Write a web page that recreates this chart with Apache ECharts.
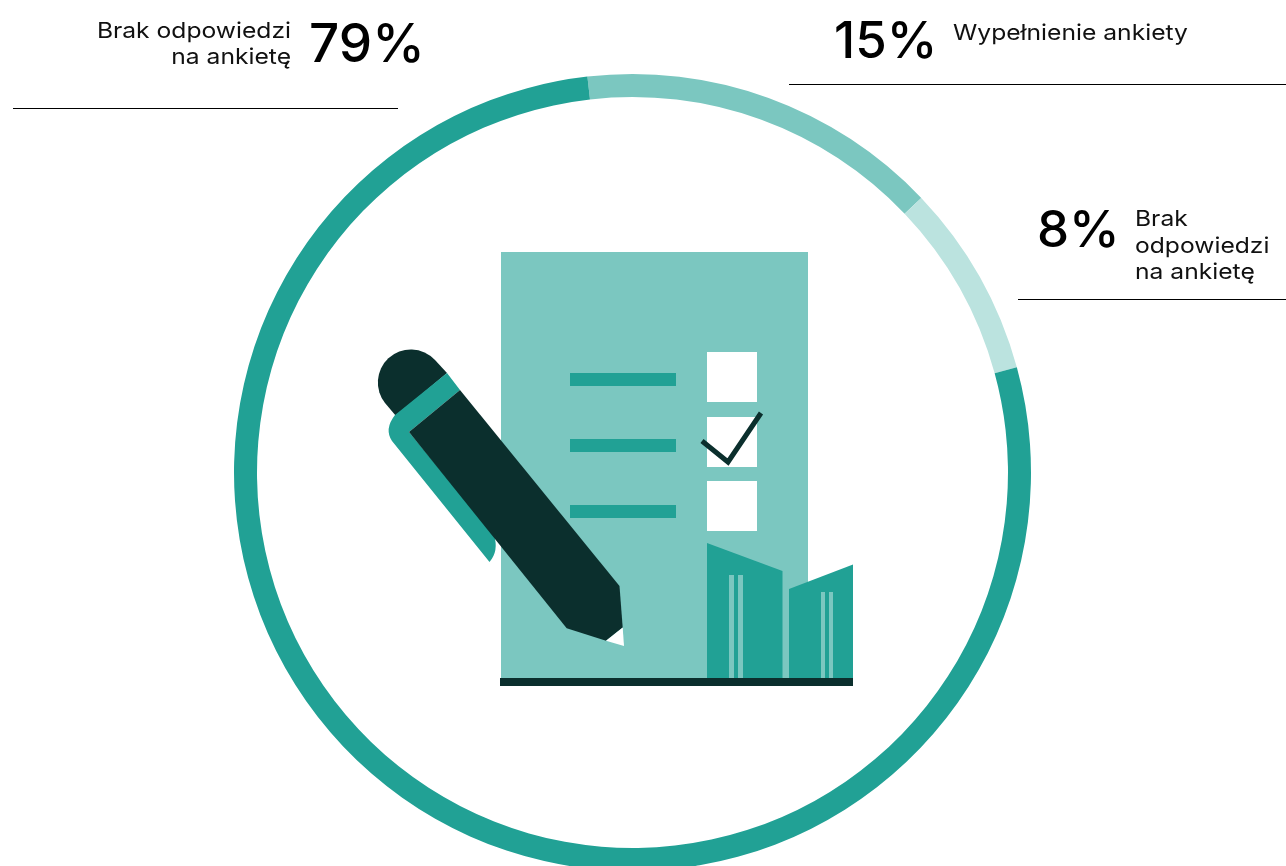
<!DOCTYPE html>
<html lang="pl">
<head>
<meta charset="utf-8">
<title>Ankieta</title>
<style>
  html, body { margin: 0; padding: 0; background: #fff; }
  #chart { width: 1286px; height: 866px; }
</style>
<script src="https://cdn.jsdelivr.net/npm/echarts@6/dist/echarts.min.js"></script>
</head>
<body>
<div id="chart"></div>
<script>
// Survey outcome, in percent
const categories = ['Wypełnienie ankiety', 'Brak odpowiedzi na ankietę', 'Brak odpowiedzi na ankietę'];
const values = [15, 8, 79];

// Caption lines per ring segment
const captions = [['Wypełnienie ankiety'], ['Brak', 'odpowiedzi', 'na ankietę'], ['Brak odpowiedzi', 'na ankietę']];

const TEAL = '#21a195';
const MID = '#7bc7c0';
const PALE = '#bbe3df';
const DARK = '#0b2f2d';
const FONT = 'Inter, "Noto Sans", sans-serif';

// Curved pieces of the pen, registered as shapes for the graphic component
echarts.graphic.registerShape('penCap', echarts.graphic.extendPath(
  'M447,373 L435,360 A33,33 0 0 0 385,403 L396,416 Z', {}));
echarts.graphic.registerShape('penClip', echarts.graphic.extendPath(
  'M447,373 L460,390 L409,432 L494,535 Q499,551 489.5,562 L392,441 Q384,429 395,415 Z', {}));

const rect = (x, y, width, height, fill) => ({ type: 'rect', shape: { x, y, width, height }, style: { fill } });
const poly = (points, fill) => ({ type: 'polygon', shape: { points }, style: { fill } });
const rule = (x1, x2, y) => ({
  type: 'line', shape: { x1, y1: y, x2, y2: y }, style: { stroke: '#000', lineWidth: 1 }
});
// Captions are set wide; the big percentages are set in a medium weight
const caption = (str, x, y, align) => ({
  type: 'text', x, y, scaleX: 1.12,
  style: { text: str, fill: '#111', font: '22px ' + FONT, align: align, verticalAlign: 'middle' }
});
const figure = (str, x, y, size) => ({
  type: 'text', x, y,
  style: { text: str, fill: '#000', font: '500 ' + size + 'px ' + FONT, align: 'left', verticalAlign: 'middle' }
});

// Clipboard sheet with its three rows and tick boxes
const sheet = [
  rect(501, 252, 307, 428, MID),
  rect(570, 373, 106, 13, TEAL), rect(570, 439, 106, 13, TEAL), rect(570, 505, 106, 13, TEAL),
  rect(707, 352, 50, 50, '#fff'), rect(707, 417, 50, 50, '#fff'), rect(707, 481, 50, 50, '#fff'),
  {
    type: 'polyline',
    shape: { points: [[702, 441], [728, 462], [761, 413]] },
    style: { stroke: DARK, lineWidth: 5, fill: null }
  }
];

// Two buildings standing on the base line
const buildings = [
  poly([[707, 543], [782.5, 571], [782.5, 679], [707, 679]], TEAL),
  rect(729, 575, 5, 104, MID), rect(738, 575, 5, 104, MID),
  poly([[789, 589], [853, 564.5], [853, 679], [789, 679]], TEAL),
  rect(821, 592, 4, 87, MID), rect(829, 592, 4, 87, MID),
  rect(500, 678, 353, 8, DARK)
];

// Pen: cap, clip, body and bare tip
const pen = [
  { type: 'penCap', style: { fill: DARK } },
  { type: 'penClip', style: { fill: TEAL } },
  poly([[460, 390], [619.5, 586], [622.7, 627.5], [606, 640.7], [566.7, 628.3], [409, 432]], DARK),
  poly([[622.7, 627.5], [624, 646], [606, 640.7]], '#fff')
];

const chart = echarts.init(document.getElementById('chart'), null, { renderer: 'canvas' });
chart.setOption({
  animation: false,
  series: [{
    type: 'pie',
    center: [632.5, 472.5],
    radius: [375.5, 398.5],
    startAngle: 96.5,
    clockwise: true,
    silent: true,
    label: { show: false },
    labelLine: { show: false },
    itemStyle: { borderWidth: 0 },
    data: values.map((v, i) => ({
      name: categories[i], value: v,
      itemStyle: { color: [MID, PALE, TEAL][i] }
    }))
  }],
  graphic: { elements: [
    ...sheet, ...buildings, ...pen,
    rule(13, 398, 108.5), rule(789, 1286, 84.5), rule(1018, 1286, 299.5),
    figure(values[2] + '%', 309, 46, 53),
    caption(captions[2][0], 291, 31, 'right'),
    caption(captions[2][1], 291, 57, 'right'),
    figure(values[0] + '%', 834, 43, 51),
    caption(captions[0][0], 953, 33, 'left'),
    figure(values[1] + '%', 1037, 232, 51),
    caption(captions[1][0], 1135, 219, 'left'),
    caption(captions[1][1], 1135, 246, 'left'),
    caption(captions[1][2], 1135, 272, 'left')
  ] }
});
</script>
</body>
</html>
